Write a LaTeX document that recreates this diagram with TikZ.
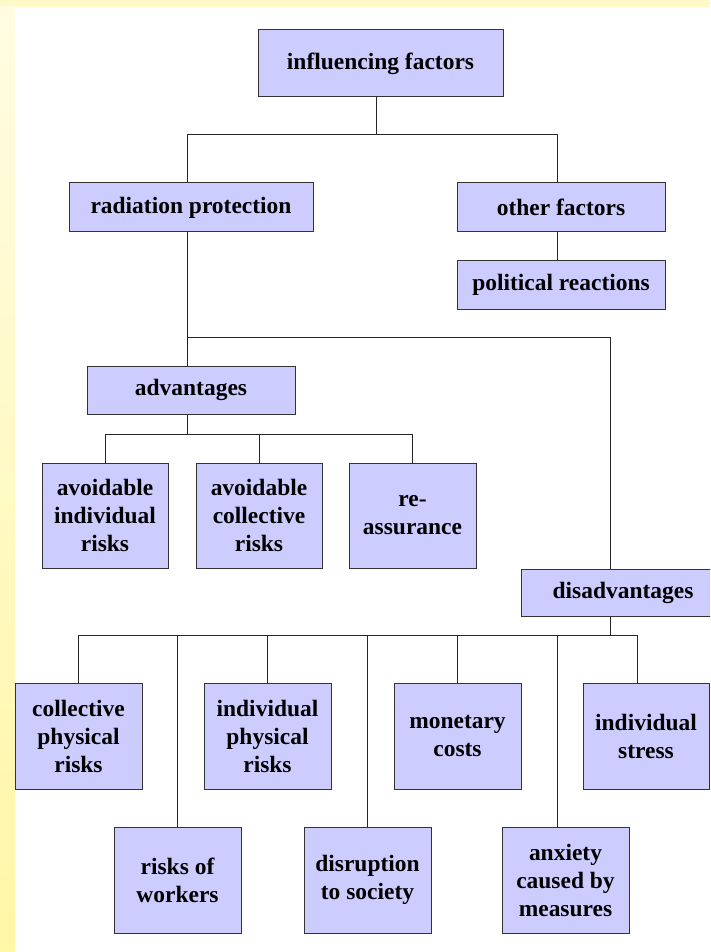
\documentclass[tikz,border=0pt]{standalone}
\usepackage{fontspec}
\setmainfont{Liberation Serif}
\usetikzlibrary{calc}
\definecolor{boxfill}{HTML}{CCCCFF}
\definecolor{topyel}{HTML}{FFF9C8}
\definecolor{leftyeltop}{HTML}{FFFCE2}
\definecolor{leftyelbot}{HTML}{FFF6A6}
\tikzset{
  box/.style={draw=black!80, fill=boxfill, line width=0.75pt, align=center,
    inner sep=0pt, font=\fontsize{17.6}{21}\selectfont\bfseries},
  wide/.style={minimum width=#1pt},
  tall/.style={minimum height=#1pt},
  conn/.style={draw=black!85, line width=0.75pt}
}
\begin{document}
\begin{tikzpicture}[x=0.75pt, y=-0.75pt]
\useasboundingbox (0,0) rectangle (710,952);
\clip (0,0) rectangle (710,952);
% background
\fill[topyel] (0,0) rectangle (710,7);
\shade[top color=leftyeltop, bottom color=leftyelbot] (0,7) rectangle (15,952);
\fill[white] (15,7) rectangle (710,952);

% nodes
\node[box, wide=183.75, tall=50.25] (inf) at (380.5,63.5) {influencing factors};
\node[box, wide=183, tall=36.75] (rad) at (191,207.5) {radiation protection};
\node[box, wide=156, tall=36.75] (oth) at (561,207.5) {other factors};
\node[box, wide=156, tall=36.75] (pol) at (561,284.5) {political reactions};
\node[box, wide=156, tall=36] (adv) at (191,390) {advantages};
\node[box, wide=94.5, tall=78.75] (avi) at (105,515.5) {avoidable\\individual\\risks};
\node[box, wide=94.5, tall=78.75] (avc) at (259,515.5) {avoidable\\collective\\risks};
\node[box, wide=95.25, tall=78.75] (rea) at (412.5,515.5) {re-\\assurance};
\node[box, wide=153, tall=35.25] (dis) at (623,592.5) {disadvantages};
\node[box, wide=95.25, tall=79.5] (cpr) at (78.5,736) {collective\\physical\\risks};
\node[box, wide=95.25, tall=79.5] (ipr) at (267.5,736) {individual\\physical\\risks};
\node[box, wide=95.25, tall=79.5] (mon) at (457.5,736) {monetary\\costs};
\node[box, wide=94.5, tall=79.5] (ist) at (646,736) {individual\\stress};
\node[box, wide=95.25, tall=79.5] (row) at (177.5,880) {risks of\\workers};
\node[box, wide=95.25, tall=79.5] (dso) at (367.5,880) {disruption\\to society};
\node[box, wide=95.25, tall=79.5] (anx) at (565.5,880) {anxiety\\caused by\\measures};

% junction coordinates
\coordinate (j1) at (376,135);
\coordinate (h1L) at (187,135);
\coordinate (h1R) at (557,135);
\coordinate (h2) at (187,337);
\coordinate (xd) at (610,0);
\coordinate (h3) at (187,434);
\coordinate (h4) at (610,635);
\coordinate (h4R) at (637,635);
\coordinate (xan) at (557,0);

% connectors
\draw[conn] (inf.south -| j1) -- (j1);
\draw[conn] (rad.north -| h1L) |- (h1R) -- (oth.north -| h1R);
\draw[conn] (oth.south -| h1R) -- (pol.north -| h1R);
\draw[conn] (rad.south -| h1L) -- (adv.north -| h1L);
\draw[conn] (h2) -| (dis.north -| xd);
\draw[conn] (adv.south -| h3) -- (h3);
\draw[conn] (avi.north) |- (rea.north |- h3) -- (rea.north);
\draw[conn] (avc.north) -- (avc.north |- h3);
\draw[conn] (dis.south -| h4) -- (h4);
\draw[conn] (cpr.north) |- (h4R) -- (ist.north -| h4R);
\draw[conn] (row.north) -- (row.north |- h4);
\draw[conn] (ipr.north) -- (ipr.north |- h4);
\draw[conn] (dso.north) -- (dso.north |- h4);
\draw[conn] (mon.north) -- (mon.north |- h4);
\draw[conn] (anx.north -| xan) -- (xan |- h4);
\end{tikzpicture}
\end{document}
